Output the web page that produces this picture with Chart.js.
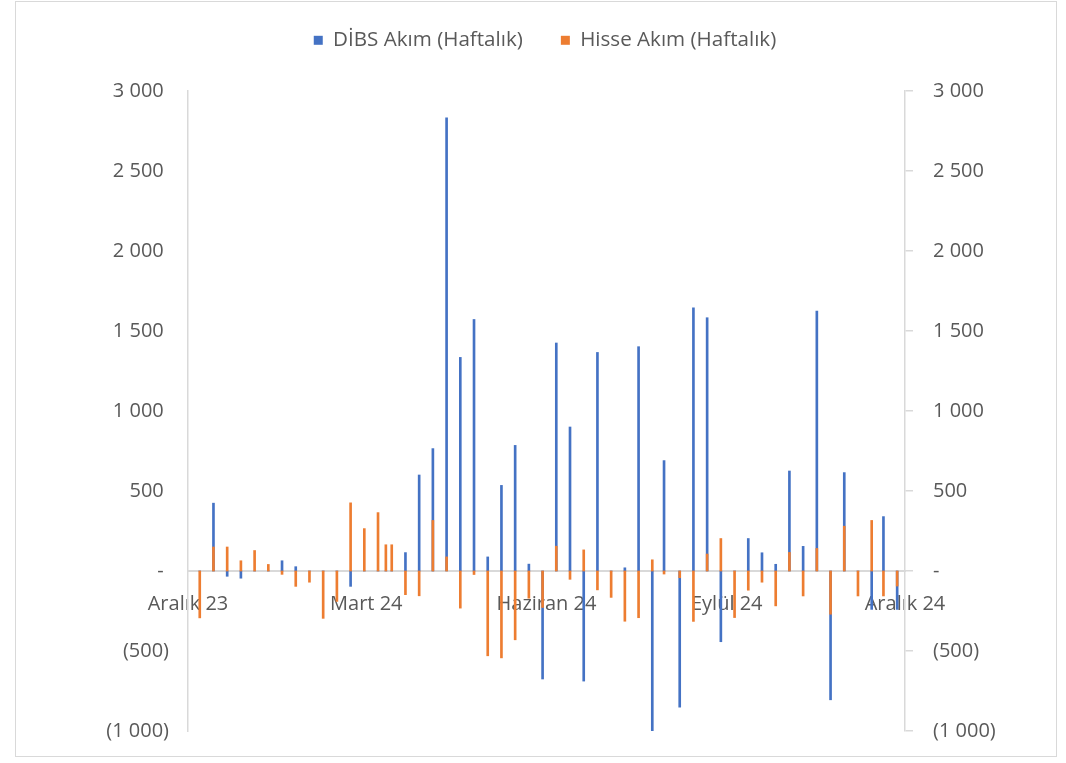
<!DOCTYPE html>
<html><head><meta charset="utf-8">
<script src="https://cdn.jsdelivr.net/npm/chart.js@4.4.0/dist/chart.umd.min.js"></script>
<style>html,body{margin:0;padding:0;background:#fff;}#wrap{position:relative;width:1066px;height:763px;}</style>
</head><body><div id="wrap"><canvas id="c" width="1066" height="763"></canvas></div>
<script>
const weekDates = ['2023-12-07','2023-12-14','2023-12-21','2023-12-28','2024-01-04','2024-01-11','2024-01-18','2024-01-25','2024-02-01','2024-02-08','2024-02-15','2024-02-22','2024-02-29','2024-03-07','2024-03-11','2024-03-14','2024-03-21','2024-03-28','2024-04-04','2024-04-11','2024-04-18','2024-04-25','2024-05-02','2024-05-09','2024-05-16','2024-05-23','2024-05-30','2024-06-06','2024-06-13','2024-06-20','2024-06-27','2024-07-04','2024-07-11','2024-07-18','2024-07-25','2024-07-31','2024-08-08','2024-08-15','2024-08-22','2024-08-29','2024-09-05','2024-09-12','2024-09-19','2024-09-26','2024-10-03','2024-10-10','2024-10-17','2024-10-24','2024-10-31','2024-11-07','2024-11-14','2024-11-20','2024-11-27'];
const dibsFlow = [0,424,-33,-45,0,0,64,27,0,0,0,-96,0,0,0,0,115,600,765,2832,1335,1572,88,535,785,43,-675,1425,900,-688,1366,0,20,1402,-1005,690,-851,1645,1583,-442,0,203,114,42,625,154,1625,-805,615,0,-240,340,-240];
const hisseFlow = [-293,150,150,64,128,41,-21,-96,-70,-296,-190,426,265,365,164,164,-148,-155,316,88,-232,-22,-530,-543,-430,-170,-228,155,-52,132,-118,-165,-314,-292,70,-19,-42,-315,106,203,-291,-120,-70,-218,116,-156,141,-270,280,-156,316,-156,-94];
const seriesNames = ['DİBS Akım (Haftalık)', 'Hisse Akım (Haftalık)'];
const axisStart = '2023-12-01';
const axisEnd = '2024-12-01';
const monthTickDates = ['2023-12-01','2024-03-01','2024-06-01','2024-09-01','2024-12-01'];
const monthTickLabels = ['Aralık 23','Mart 24','Haziran 24','Eylül 24','Aralık 24'];
const yMin = -1000, yMax = 3000, yStep = 500;

const dayIndex = s => (Date.parse(s + 'T00:00:00Z') - Date.parse(axisStart + 'T00:00:00Z')) / 86400000;
const fmtNum = v => {
  if (v === 0) return '- ';
  const a = Math.abs(v).toString().replace(/\B(?=(\d{3})+(?!\d))/g, ' ');
  return v < 0 ? '(' + a + ')' : a + ' ';
};
const txt = '#595959';
const font = {family: 'Open Sans', size: 20};
const legendFont = {family: 'Open Sans', size: 20.6};
const lineCol = '#D9D9D9';
const PAD_TOP = -8, PAD_LEFT = 24, PAD_RIGHT = 0, PAD_BOTTOM = 24;

const framePlugin = {
  id: 'frame',
  beforeInit(chart) {
    const lg = chart.legend;
    if (lg) {
      const f = lg.fit.bind(lg);
      lg.fit = function () { f(); this.height = 91 - PAD_TOP; };
    }
  },
  beforeDraw(chart) {
    const ctx = chart.ctx;
    ctx.save();
    ctx.fillStyle = '#fff';
    ctx.fillRect(0, 0, chart.width, chart.height);
    ctx.strokeStyle = lineCol;
    ctx.lineWidth = 1;
    ctx.strokeRect(15.5, 1.5, 1041, 755);
    ctx.restore();
  }
};

new Chart(document.getElementById('c'), {
  type: 'bar',
  data: {
    datasets: [
      {label: seriesNames[0], data: weekDates.map((d, i) => ({x: dayIndex(d), y: dibsFlow[i]})),
       backgroundColor: '#4472C4', borderWidth: 0, barThickness: 2, grouped: false, order: 1, yAxisID: 'y'},
      {label: seriesNames[1], data: weekDates.map((d, i) => ({x: dayIndex(d), y: hisseFlow[i]})),
       backgroundColor: '#ED7D31', borderWidth: 0, barThickness: 2, grouped: false, order: 0, yAxisID: 'y'}
    ]
  },
  options: {
    responsive: false, animation: false,
    layout: {padding: {left: PAD_LEFT, right: PAD_RIGHT, top: PAD_TOP, bottom: PAD_BOTTOM}},
    plugins: {
      legend: {position: 'top', labels: {boxWidth: 9, boxHeight: 9, padding: 38, color: txt, font: legendFont,
        sort: (a, b) => a.datasetIndex - b.datasetIndex}},
      tooltip: {enabled: false}
    },
    scales: {
      x: {type: 'linear', offset: false, position: {y: 0}, min: dayIndex(axisStart), max: dayIndex(axisEnd),
        grid: {display: false, drawTicks: false, offset: false}, border: {display: true, color: lineCol, width: 2},
        afterBuildTicks: s => { s.ticks = monthTickDates.map(d => ({value: dayIndex(d)})); },
        ticks: {autoSkip: false, maxRotation: 0, padding: 21, color: txt, font: font,
          callback: v => { const i = monthTickDates.findIndex(d => dayIndex(d) === v); return i >= 0 ? monthTickLabels[i] : ''; }}},
      y: {position: 'left', min: yMin, max: yMax,
        grid: {display: false, drawTicks: false}, border: {display: true, color: lineCol, width: 1.5},
        ticks: {stepSize: yStep, padding: 19, color: txt, font: font, callback: fmtNum},
        afterFit: s => { s.width = 188 - PAD_LEFT; }},
      y2: {position: 'right', min: yMin, max: yMax,
        grid: {drawOnChartArea: false, drawTicks: true, tickLength: 8, color: lineCol, lineWidth: 1.5},
        border: {display: true, color: lineCol, width: 1.5},
        ticks: {stepSize: yStep, padding: 20, color: txt, font: font, callback: fmtNum},
        afterFit: s => { s.width = 1066 - PAD_RIGHT - 905; }}
    }
  },
  plugins: [framePlugin]
});
</script></body></html>
